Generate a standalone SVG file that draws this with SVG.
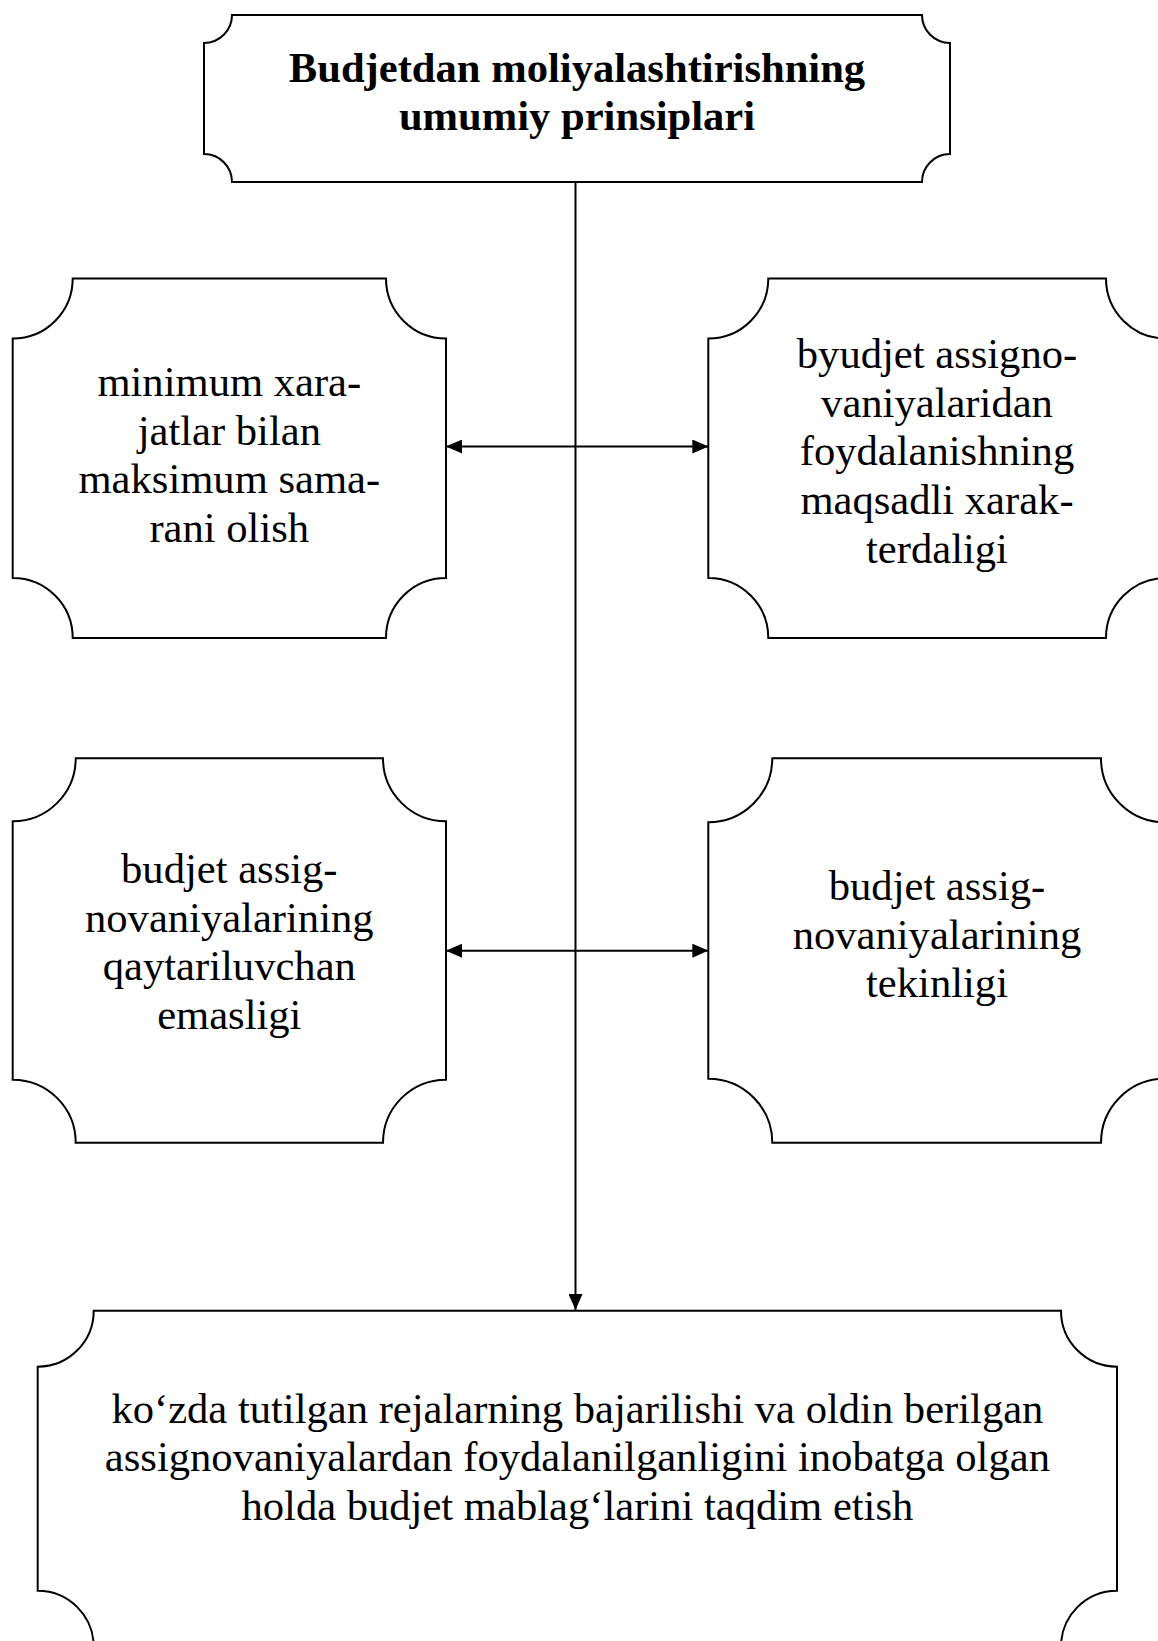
<svg xmlns="http://www.w3.org/2000/svg" width="1158" height="1641" viewBox="0 0 1158 1641">
<style>
.box{fill:#fff;stroke:#000;stroke-width:2}
.t{font-family:"Liberation Serif","Times New Roman",serif;font-size:42.6px;fill:#000;text-anchor:middle}
.b{font-weight:bold}
.c{stroke:#000;stroke-width:2;fill:none}
</style>
<defs>
<marker id="ah" viewBox="0 0 16 14" refX="16" refY="7" markerWidth="16" markerHeight="14" markerUnits="userSpaceOnUse" orient="auto-start-reverse">
<path d="M0,0 L16,7 L0,14 Z" fill="#000"/>
</marker>
</defs>
<rect width="1158" height="1641" fill="#fff"/>
<g id="connectors">
<line class="c" x1="575.5" y1="182" x2="575.5" y2="1310" marker-end="url(#ah)"/>
<line class="c" x1="446" y1="446.5" x2="708.3" y2="446.5" marker-start="url(#ah)" marker-end="url(#ah)"/>
<line class="c" x1="446" y1="950.7" x2="708.3" y2="950.7" marker-start="url(#ah)" marker-end="url(#ah)"/>
</g>
<g id="node-title">
<path class="box" d="M232,15 H922 A28 28 0 0 0 950,43 V154 A28 28 0 0 0 922,182 H232 A28 28 0 0 0 204,154 V43 A28 28 0 0 0 232,15 Z"/>
<text class="t b" x="577" y="82">Budjetdan moliyalashtirishning</text>
<text class="t b" x="577" y="130">umumiy prinsiplari</text>
</g>
<g id="node-left1">
<path class="box" d="M72.7,278.5 H386 A60 60 0 0 0 446,338.5 V578 A60 60 0 0 0 386,638 H72.7 A60 60 0 0 0 12.7,578 V338.5 A60 60 0 0 0 72.7,278.5 Z"/>
<text class="t" x="229.3" y="396">minimum xara-</text>
<text class="t" x="229.3" y="444.5">jatlar bilan</text>
<text class="t" x="229.3" y="493">maksimum sama-</text>
<text class="t" x="229.3" y="541.5">rani olish</text>
</g>
<g id="node-right1">
<path class="box" d="M768.3,278.5 H1106 A60 60 0 0 0 1166,338.5 V578 A60 60 0 0 0 1106,638 H768.3 A60 60 0 0 0 708.3,578 V338.5 A60 60 0 0 0 768.3,278.5 Z"/>
<text class="t" x="937" y="368">byudjet assigno-</text>
<text class="t" x="937" y="416.7">vaniyalaridan</text>
<text class="t" x="937" y="465.4">foydalanishning</text>
<text class="t" x="937" y="514.1">maqsadli xarak-</text>
<text class="t" x="937" y="562.8">terdaligi</text>
</g>
<g id="node-left2">
<path class="box" d="M75.7,758.3 H383 A63 63 0 0 0 446,821.3 V1079.7 A63 63 0 0 0 383,1142.7 H75.7 A63 63 0 0 0 12.7,1079.7 V821.3 A63 63 0 0 0 75.7,758.3 Z"/>
<text class="t" x="229.3" y="883">budjet assig-</text>
<text class="t" x="229.3" y="931.7">novaniyalarining</text>
<text class="t" x="229.3" y="980.4">qaytariluvchan</text>
<text class="t" x="229.3" y="1029">emasligi</text>
</g>
<g id="node-right2">
<path class="box" d="M772.3,758.3 H1101 A64 64 0 0 0 1165,822.3 V1078.7 A64 64 0 0 0 1101,1142.7 H772.3 A64 64 0 0 0 708.3,1078.7 V822.3 A64 64 0 0 0 772.3,758.3 Z"/>
<text class="t" x="937" y="900">budjet assig-</text>
<text class="t" x="937" y="948.7">novaniyalarining</text>
<text class="t" x="937" y="997.4">tekinligi</text>
</g>
<g id="node-bottom">
<path class="box" d="M93.7,1310.7 H1061 A56 56 0 0 0 1117,1366.7 V1590.7 A56 56 0 0 0 1061,1646.7 H93.7 A56 56 0 0 0 37.7,1590.7 V1366.7 A56 56 0 0 0 93.7,1310.7 Z"/>
<text class="t" x="577.4" y="1422.5">ko‘zda tutilgan rejalarning bajarilishi va oldin berilgan</text>
<text class="t" x="577.4" y="1471.2">assignovaniyalardan foydalanilganligini inobatga olgan</text>
<text class="t" x="577.4" y="1520">holda budjet mablag‘larini taqdim etish</text>
</g>
</svg>
